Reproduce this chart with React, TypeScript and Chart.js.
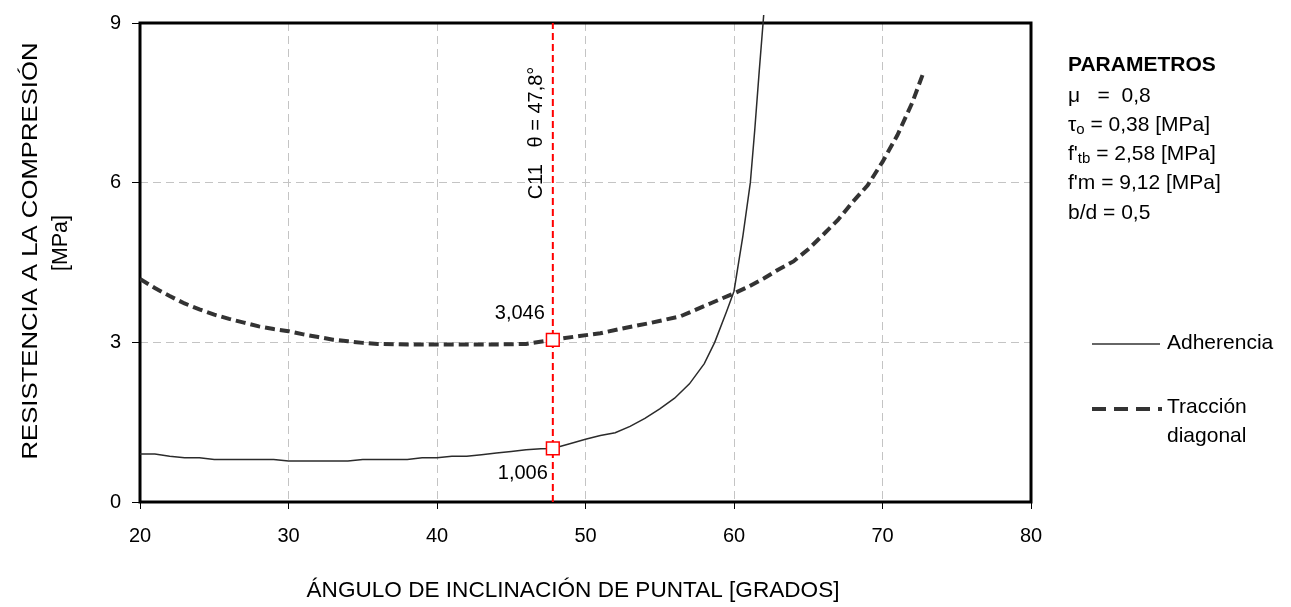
import React, { useEffect, useRef } from "react";
import { Chart, registerables } from "chart.js";

Chart.register(...registerables);

const FONT = '"Liberation Sans", Arial, Helvetica, sans-serif';

// Strut inclination angle [degrees] and compressive strength [MPa]
const adherenciaAngles = [
  20, 21, 22, 23, 24, 25, 26, 27, 28, 29, 30, 31, 32, 33, 34, 35, 36, 37, 38, 39, 40, 41, 42, 43, 44, 45,
  46, 47, 47.8, 49, 50, 51, 52, 53, 54, 55, 56, 57, 58, 58.7, 59.5, 60, 60.6, 61.1, 61.4, 61.7, 62,
];
const adherenciaValues = [
  0.9, 0.9, 0.86, 0.83, 0.83, 0.8, 0.8, 0.8, 0.8, 0.8, 0.77, 0.77, 0.77, 0.77, 0.77, 0.8, 0.8, 0.8, 0.8,
  0.83, 0.83, 0.86, 0.86, 0.89, 0.92, 0.95, 0.98, 1.0, 1.006, 1.1, 1.18, 1.25, 1.3, 1.42, 1.57, 1.75,
  1.95, 2.22, 2.6, 3.0, 3.58, 3.96, 5.0, 6.0, 7.0, 8.1, 9.15,
];

const traccionAngles = [
  20, 21, 22, 23, 24, 25, 26, 27, 28, 29, 30, 31, 32, 33, 34, 35, 36, 38, 40, 42, 44, 46, 47.8, 49.6,
  51, 52.3, 54.3, 56.4, 58.4, 60, 61, 62, 63, 64, 65, 66, 67, 68, 69, 70, 71, 72, 72.8,
];
const traccionValues = [
  4.19, 4.02, 3.87, 3.73, 3.62, 3.52, 3.44, 3.37, 3.3, 3.25, 3.21, 3.15, 3.1, 3.05, 3.02, 2.99, 2.97,
  2.96, 2.96, 2.96, 2.96, 2.97, 3.046, 3.12, 3.17, 3.25, 3.36, 3.49, 3.73, 3.92, 4.05, 4.2, 4.37, 4.52,
  4.75, 5.02, 5.3, 5.64, 5.95, 6.39, 6.89, 7.5, 8.1,
];

// Selected strut angle for specimen C11 and the two strengths read there
const strutAngle = 47.8;
const markerValues = [3.046, 1.006];
const markerLabels = ["3,046", "1,006"];
const strutLabel = "C11   θ = 47,8°";

const xMin = 20;
const xMax = 80;
const xStep = 10;
const yMin = 0;
const yMax = 9;
const yStep = 3;

const xTitle = "ÁNGULO DE INCLINACIÓN DE PUNTAL [GRADOS]";
const yTitleLines = ["RESISTENCIA A LA COMPRESIÓN", "[MPa]"];
const seriesNames = ["Adherencia", "Tracción", "diagonal"];

const toPoints = (xs: number[], ys: number[]) => xs.map((x, i) => ({ x, y: ys[i] }));

function drawStretched(
  ctx: CanvasRenderingContext2D,
  text: string,
  x: number,
  y: number,
  size: number,
  targetWidth: number,
  rotate: boolean
) {
  ctx.save();
  ctx.font = `${size}px ${FONT}`;
  const w = ctx.measureText(text).width;
  ctx.translate(x, y);
  if (rotate) ctx.rotate(-Math.PI / 2);
  ctx.scale(targetWidth / w, 1);
  ctx.textAlign = "center";
  ctx.textBaseline = "middle";
  ctx.fillStyle = "#000";
  ctx.fillText(text, 0, 0);
  ctx.restore();
}

// Text run with optional subscript pieces: [text, isSub]
function drawRuns(ctx: CanvasRenderingContext2D, runs: [string, boolean][], x: number, y: number) {
  let cx = x;
  for (const [t, sub] of runs) {
    ctx.font = sub ? `15px ${FONT}` : `21px ${FONT}`;
    ctx.fillText(t, cx, sub ? y + 5 : y);
    cx += ctx.measureText(t).width;
  }
}

const framePlugin = {
  id: "frame",
  beforeDatasetsDraw(chart: any) {
    const { ctx, chartArea } = chart;
    ctx.save();
    ctx.strokeStyle = "#000";
    ctx.lineWidth = 3;
    ctx.strokeRect(chartArea.left, chartArea.top, chartArea.right - chartArea.left, chartArea.bottom - chartArea.top);
    ctx.restore();
  },
  afterDraw(chart: any) {
    const { ctx, chartArea, scales } = chart;
    const xs = scales.x;
    const ys = scales.y;
    ctx.save();
    ctx.fillStyle = "#000";

    // Axis titles
    drawStretched(ctx, yTitleLines[0], 31, 251, 22, 417, true);
    drawStretched(ctx, yTitleLines[1], 61, 243, 22, 56, true);
    drawStretched(ctx, xTitle, 573, 591, 22, 533, false);

    // Marker value labels
    const px = xs.getPixelForValue(strutAngle);
    ctx.font = `20px ${FONT}`;
    ctx.textAlign = "right";
    ctx.textBaseline = "middle";
    ctx.fillText(markerLabels[0], px - 8, ys.getPixelForValue(markerValues[0]) - 26);
    ctx.fillText(markerLabels[1], px - 5, ys.getPixelForValue(markerValues[1]) + 25);

    // Vertical label along the strut line
    ctx.save();
    ctx.translate(px - 16, chartArea.top + 110);
    ctx.rotate(-Math.PI / 2);
    ctx.font = `20px ${FONT}`;
    ctx.textAlign = "center";
    ctx.fillText(strutLabel, 0, 0);
    ctx.restore();

    // Parameter block
    ctx.textAlign = "left";
    ctx.textBaseline = "middle";
    ctx.font = `bold 21px ${FONT}`;
    ctx.fillText("PARAMETROS", 1068, 65);
    drawRuns(ctx, [["μ   =  0,8", false]], 1068, 96);
    drawRuns(ctx, [["τ", false], ["o", true], [" = 0,38 [MPa]", false]], 1068, 125);
    drawRuns(ctx, [["f'", false], ["tb", true], [" = 2,58 [MPa]", false]], 1068, 154);
    drawRuns(ctx, [["f'm = 9,12 [MPa]", false]], 1068, 183);
    drawRuns(ctx, [["b/d = 0,5", false]], 1068, 213);

    // Legend
    ctx.strokeStyle = "#333";
    ctx.lineWidth = 1.5;
    ctx.beginPath();
    ctx.moveTo(1092, 344);
    ctx.lineTo(1160, 344);
    ctx.stroke();
    ctx.lineWidth = 4;
    ctx.setLineDash([14, 8]);
    ctx.beginPath();
    ctx.moveTo(1092, 409);
    ctx.lineTo(1162, 409);
    ctx.stroke();
    ctx.setLineDash([]);
    ctx.font = `21px ${FONT}`;
    ctx.fillText(seriesNames[0], 1167, 343);
    ctx.fillText(seriesNames[1], 1167, 407);
    ctx.fillText(seriesNames[2], 1167, 436);
    ctx.restore();
  },
};

export default function App() {
  const canvasRef = useRef<HTMLCanvasElement | null>(null);

  useEffect(() => {
    document.body.style.margin = "0";
    const canvas = canvasRef.current;
    if (!canvas) return;

    const chart = new Chart(canvas, {
      type: "line",
      data: {
        datasets: [
          {
            label: "C11 markers",
            data: markerValues.map((v) => ({ x: strutAngle, y: v })),
            showLine: false,
            pointStyle: "rect",
            pointRadius: 9,
            pointBorderWidth: 1.5,
            pointBorderColor: "#ff0000",
            pointBackgroundColor: "#ffffff",
          },
          {
            label: seriesNames[0],
            data: toPoints(adherenciaAngles, adherenciaValues),
            borderColor: "#2b2b2b",
            borderWidth: 1.5,
            pointRadius: 0,
            tension: 0,
            clip: false as any,
          },
          {
            label: "Tracción diagonal",
            data: toPoints(traccionAngles, traccionValues),
            borderColor: "#333333",
            borderWidth: 4,
            borderDash: [10, 5],
            pointRadius: 0,
            tension: 0,
          },
          {
            label: "θ",
            data: [
              { x: strutAngle, y: yMin },
              { x: strutAngle, y: yMax },
            ],
            borderColor: "#ff0000",
            borderWidth: 2,
            borderDash: [7, 4],
            pointRadius: 0,
          },
        ],
      },
      options: {
        responsive: false,
        animation: false,
        devicePixelRatio: 1,
        layout: { padding: { top: 20, right: 260, left: 0, bottom: 0 } },
        plugins: {
          legend: { display: false },
          tooltip: { enabled: false },
        },
        scales: {
          x: {
            type: "linear",
            min: xMin,
            max: xMax,
            afterFit: (s: any) => {
              s.height = 105;
            },
            ticks: {
              stepSize: xStep,
              color: "#000",
              padding: 15,
              font: { family: FONT, size: 20 },
            },
            grid: {
              color: "#c4c4c4",
              lineWidth: 1,
              tickColor: "#000",
              tickLength: 7,
              tickWidth: 1,
              tickBorderDash: [],
            },
            border: { display: false, dash: [8, 5] },
          },
          y: {
            type: "linear",
            min: yMin,
            max: yMax,
            afterFit: (s: any) => {
              s.width = 140;
            },
            ticks: {
              stepSize: yStep,
              color: "#000",
              padding: 11,
              font: { family: FONT, size: 20 },
            },
            grid: {
              color: "#c4c4c4",
              lineWidth: 1,
              tickColor: "#000",
              tickLength: 8,
              tickWidth: 1,
              tickBorderDash: [],
            },
            border: { display: false, dash: [8, 5] },
          },
        },
      },
      plugins: [framePlugin],
    } as any);

    return () => chart.destroy();
  }, []);

  return <canvas ref={canvasRef} width={1291} height={607} style={{ display: "block" }} />;
}
